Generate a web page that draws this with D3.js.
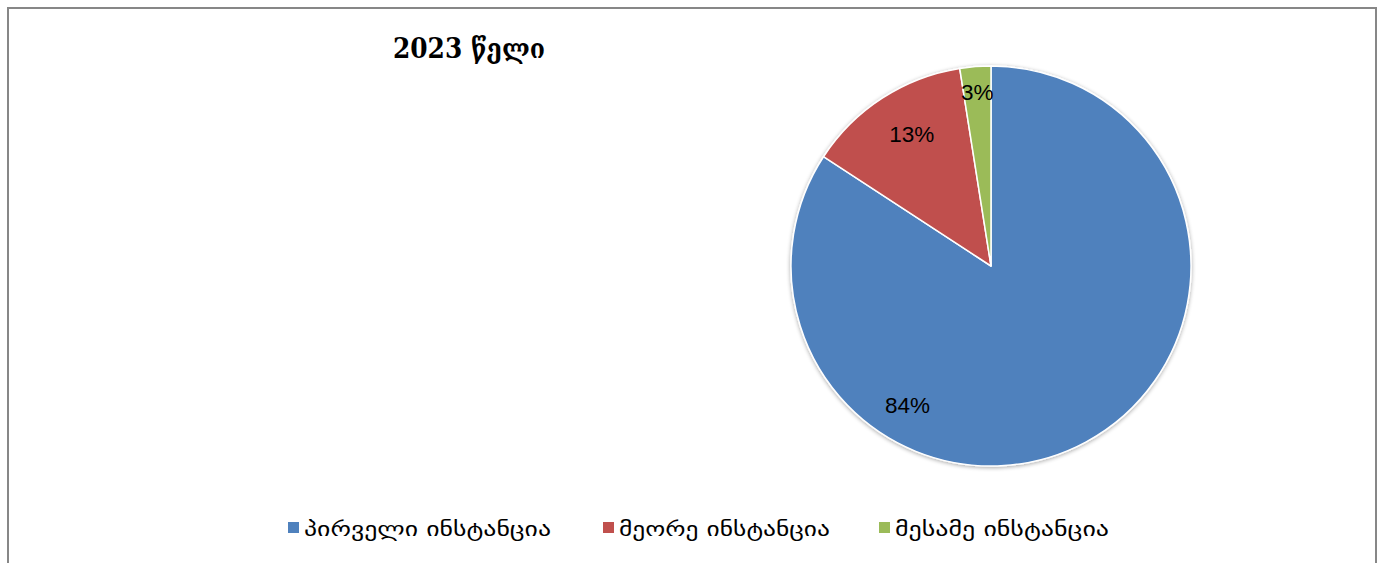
<!DOCTYPE html>
<html>
<head>
<meta charset="utf-8">
<script src="https://cdn.jsdelivr.net/npm/d3@7"></script>
<style>
  html, body { margin: 0; padding: 0; background: #ffffff; }
  svg { display: block; }
</style>
</head>
<body>
<svg id="chart" width="1381" height="563"></svg>
<script>
const title = "2023 წელი";
const categories = ["პირველი ინსტანცია", "მეორე ინსტანცია", "მესამე ინსტანცია"];
const values = [84.2, 13.3, 2.5];
const colors = ["#4F81BD", "#C0504D", "#9BBB59"];

const W = 1381, H = 563;
const svg = d3.select("#chart");

// outer border (bottom edge lies below the visible area)
svg.append("rect")
  .attr("x", 8).attr("y", 8)
  .attr("width", 1368).attr("height", 600)
  .attr("fill", "none")
  .attr("stroke", "#878787")
  .attr("stroke-width", 2);

// title
svg.append("text")
  .attr("x", 393).attr("y", 58)
  .attr("font-family", "'DejaVu Serif', 'DejaVu Sans', serif")
  .attr("font-weight", "bold")
  .attr("font-size", 27)
  .attr("textLength", 152)
  .attr("lengthAdjust", "spacingAndGlyphs")
  .attr("fill", "#000")
  .text(title);

// pie
const cx = 991, cy = 266, R = 200;
const pie = d3.pie().sort(null).value(d => d)(values);
const arc = d3.arc().innerRadius(0).outerRadius(R);

const defs = svg.append("defs");
const f = defs.append("filter").attr("id", "shadow")
  .attr("x", "-10%").attr("y", "-10%").attr("width", "120%").attr("height", "120%");
f.append("feGaussianBlur").attr("in", "SourceAlpha").attr("stdDeviation", 2).attr("result", "b");
f.append("feOffset").attr("in", "b").attr("dx", 0).attr("dy", 1).attr("result", "o");
f.append("feComponentTransfer").attr("in", "o").attr("result", "o2")
  .append("feFuncA").attr("type", "linear").attr("slope", 0.35);
const fm = f.append("feMerge");
fm.append("feMergeNode").attr("in", "o2");
fm.append("feMergeNode").attr("in", "SourceGraphic");

const g = svg.append("g").attr("transform", `translate(${cx},${cy})`);
g.append("g").attr("filter", "url(#shadow)")
  .selectAll("path").data(pie).join("path")
  .attr("d", arc)
  .attr("fill", (d, i) => colors[i])
  .attr("stroke", "#ffffff")
  .attr("stroke-width", 1.5)
  .attr("stroke-linejoin", "round");

// percentage labels (radius fraction and angular nudge in degrees, as placed in the original)
const labelRadius = [0.81, 0.77, 0.87];
const labelNudge = [59.5, 2, 0];
const total = d3.sum(values);
g.selectAll("text.lbl").data(pie).join("text")
  .attr("class", "lbl")
  .attr("transform", (d, i) => {
    const a = (d.startAngle + d.endAngle) / 2 + labelNudge[i] * Math.PI / 180;
    const r = R * labelRadius[i];
    return `translate(${r * Math.sin(a)},${-r * Math.cos(a)})`;
  })
  .attr("text-anchor", "middle")
  .attr("dy", "0.35em")
  .attr("font-family", "'Liberation Sans', Arial, sans-serif")
  .attr("font-size", 22.5)
  .attr("fill", "#000")
  .text(d => Math.round(d.value / total * 100) + "%");

// legend
const legendX = [288, 603, 879];
const legendTextW = [247, 211, 214];
const lg = svg.append("g");
categories.forEach((c, i) => {
  lg.append("rect")
    .attr("x", legendX[i]).attr("y", 522)
    .attr("width", 11).attr("height", 11)
    .attr("fill", colors[i]);
  lg.append("text")
    .attr("x", legendX[i] + 16).attr("y", 536)
    .attr("font-family", "'DejaVu Sans', sans-serif")
    .attr("font-size", 20)
    .attr("textLength", legendTextW[i])
    .attr("lengthAdjust", "spacingAndGlyphs")
    .attr("fill", "#000")
    .text(c);
});
</script>
</body>
</html>
